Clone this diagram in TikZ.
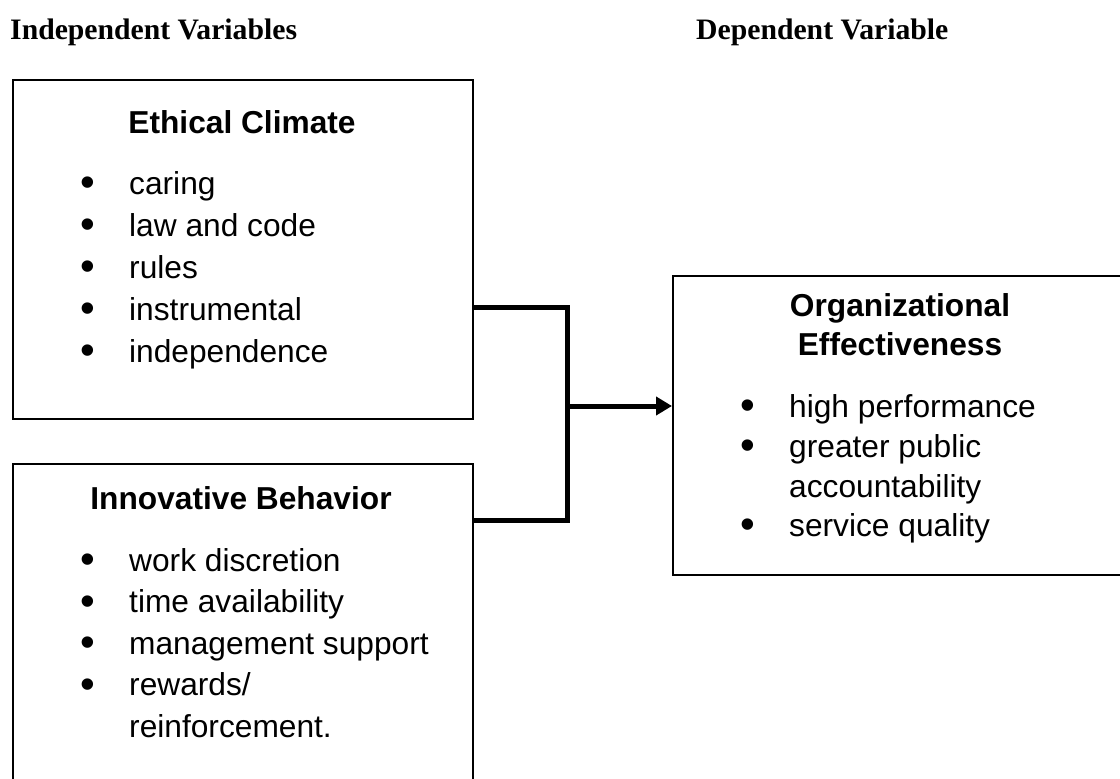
\documentclass[tikz,border=0pt]{standalone}
\usepackage{fontspec}
\setmainfont{Liberation Sans}
\newfontfamily\headfont{Liberation Serif}
\usetikzlibrary{arrows.meta}

\begin{document}
\begin{tikzpicture}[x=1pt,y=-1pt,
  box/.style={draw, line width=2pt, inner sep=0pt, anchor=north west},
  head/.style={anchor=base west, inner sep=0pt, font=\headfont\bfseries\fontsize{29.7}{34}\selectfont},
  title/.style={anchor=base, inner sep=0pt, font=\bfseries\fontsize{31.7}{38}\selectfont},
  item/.style={anchor=base west, inner sep=0pt, font=\fontsize{31.7}{38}\selectfont},
  dot/.style={anchor=center, inner sep=0pt, font=\fontsize{42}{46}\selectfont},
  conn/.style={line width=5pt, line join=miter},
  flow/.style={line width=5pt, -{Triangle[length=16pt,width=18pt]}}]

\useasboundingbox (0,0) rectangle (1120,779);
\clip (0,0) rectangle (1120,779);

% column headings
\node[head] (hindep) at (10,39) {Independent Variables};
\node[head] (hdep) at (696,39) {Dependent Variable};

% boxes
\node[box, minimum width=460, minimum height=339] (ec) at (12,79) {};
\node[box, minimum width=460, minimum height=400] (ib) at (12,463) {};
\node[box, minimum width=465, minimum height=299] (oe) at (672,275) {};

% Ethical Climate
\node[title] (ect) at (242,133) {Ethical Climate};
\node[dot] (ec1b) at (88,187) {\textbullet};
\node[item] (ec1) at (129,194) {caring};
\node[dot] (ec2b) at (88,229) {\textbullet};
\node[item] (ec2) at (129,236) {law and code};
\node[dot] (ec3b) at (88,271) {\textbullet};
\node[item] (ec3) at (129,278) {rules};
\node[dot] (ec4b) at (88,313) {\textbullet};
\node[item] (ec4) at (129,320) {instrumental};
\node[dot] (ec5b) at (88,355) {\textbullet};
\node[item] (ec5) at (129,362) {independence};

% Innovative Behavior
\node[title] (ibt) at (241,509) {Innovative Behavior};
\node[dot] (ib1b) at (88,564) {\textbullet};
\node[item] (ib1) at (129,571) {work discretion};
\node[dot] (ib2b) at (88,605.5) {\textbullet};
\node[item] (ib2) at (129,612.5) {time availability};
\node[dot] (ib3b) at (88,647) {\textbullet};
\node[item] (ib3) at (129,654) {management support};
\node[dot] (ib4b) at (88,688.5) {\textbullet};
\node[item] (ib4) at (129,695.5) {rewards/};
\node[item] (ib4c) at (129,737) {reinforcement.};

% Organizational Effectiveness
\node[title] (oet1) at (900,316) {Organizational};
\node[title] (oet2) at (900,355) {Effectiveness};
\node[dot] (oe1b) at (748,410) {\textbullet};
\node[item] (oe1) at (789,417) {high performance};
\node[dot] (oe2b) at (748,450) {\textbullet};
\node[item] (oe2) at (789,457) {greater public};
\node[item] (oe2c) at (789,497) {accountability};
\node[dot] (oe3b) at (748,529) {\textbullet};
\node[item] (oe3) at (789,536) {service quality};

% connectors
\coordinate (bend1) at (567,307);
\coordinate (bend2) at (567,520);
\coordinate (mid) at (567,406);
\draw[conn] (ec.east |- bend1) -- (bend1) -- (bend2) -- (ib.east |- bend2);
\draw[flow] (mid) -- (oe.west |- mid);
\end{tikzpicture}
\end{document}
